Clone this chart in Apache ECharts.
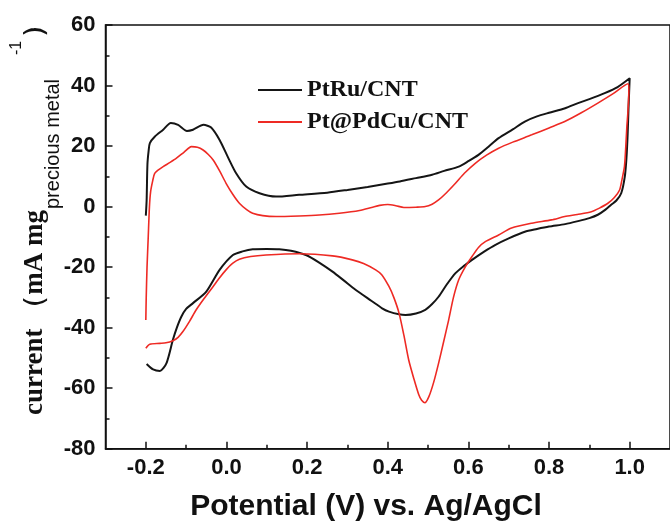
<!DOCTYPE html>
<html>
<head>
<meta charset="utf-8">
<script src="https://cdn.jsdelivr.net/npm/echarts@6/dist/echarts.min.js"></script>
<style>html,body{margin:0;padding:0;background:#fff}#c{width:670px;height:527px}</style>
</head>
<body>
<div id="c"></div>
<script>
// ---- data (potential V vs Ag/AgCl, current mA mg-1) ----
const seriesNames = ['PtRu/CNT', 'Pt@PdCu/CNT'];
const xTickLabels = [-0.2, 0.0, 0.2, 0.4, 0.6, 0.8, 1.0];
const xMinorTicks = [-0.1, 0.1, 0.3, 0.5, 0.7, 0.9];

const ptruV = [-0.2, -0.198, -0.196, -0.193, -0.19, -0.178, -0.157, -0.138, -0.12, -0.098, -0.083, -0.057, -0.038, -0.017, 0.003, 0.024, 0.049, 0.082, 0.123, 0.18, 0.25, 0.3, 0.35, 0.4, 0.43, 0.47, 0.51, 0.54, 0.576, 0.6, 0.625, 0.65, 0.675, 0.71, 0.74, 0.77, 0.8, 0.84, 0.872, 0.9, 0.938, 0.97, 1.0,
  0.999, 0.997, 0.995, 0.992, 0.988, 0.979, 0.967, 0.954, 0.94, 0.921, 0.9, 0.872, 0.84, 0.8, 0.77, 0.74, 0.7, 0.666, 0.64, 0.609, 0.59, 0.568, 0.545, 0.526, 0.51, 0.493, 0.47, 0.444, 0.428, 0.403, 0.386, 0.36, 0.32, 0.29, 0.263, 0.23, 0.197, 0.16, 0.131, 0.1, 0.065, 0.04, 0.016, -0.017, -0.05, -0.083, -0.1, -0.112, -0.123, -0.133, -0.149, -0.165, -0.182, -0.198];
const ptruI = [-3, 2, 14, 18.5, 21, 23.1, 25.4, 27.6, 27, 25, 25.4, 27, 26.1, 22, 16.5, 11, 6.6, 4.4, 3.3, 3.9, 4.6, 5.5, 6.5, 7.6, 8.3, 9.4, 10.5, 11.8, 13.2, 15, 17.1, 19.8, 22.6, 25.5, 28.1, 29.8, 31, 32.5, 34.2, 35.5, 37.5, 39.5, 42.4,
  39, 32, 24, 16, 10, 4.4, 2, 0.6, -1, -2.7, -3.8, -4.8, -5.8, -6.6, -7.4, -8.3, -10.5, -12.7, -14.8, -17.6, -19.5, -22, -26, -29.8, -32.2, -34.1, -35.3, -35.8, -35.6, -34.7, -33.6, -31.2, -27.5, -24.3, -21.5, -18.5, -16, -14.6, -14.1, -14, -14.1, -14.8, -16, -20.9, -28.1, -31.9, -33.8, -36.4, -40, -44.1, -51.8, -54.3, -53.8, -52];

const ptpdcuV = [-0.2, -0.199, -0.197, -0.194, -0.191, -0.188, -0.183, -0.178, -0.167, -0.157, -0.14, -0.124, -0.105, -0.087, -0.072, -0.058, -0.045, -0.033, -0.017, -0.001, 0.016, 0.032, 0.05, 0.065, 0.09, 0.123, 0.18, 0.23, 0.28, 0.33, 0.36, 0.38, 0.4, 0.42, 0.44, 0.47, 0.493, 0.51, 0.526, 0.545, 0.568, 0.59, 0.617, 0.645, 0.675, 0.71, 0.757, 0.8, 0.839, 0.88, 0.921, 0.96, 0.996,
  0.998, 0.996, 0.993, 0.99, 0.987, 0.981, 0.975, 0.962, 0.946, 0.925, 0.905, 0.87, 0.839, 0.806, 0.757, 0.707, 0.675, 0.642, 0.625, 0.609, 0.592, 0.576, 0.563, 0.551, 0.538, 0.526, 0.514, 0.502, 0.492, 0.484, 0.477, 0.465, 0.452, 0.44, 0.428, 0.415, 0.403, 0.385, 0.37, 0.34, 0.312, 0.263, 0.18, 0.098, 0.06, 0.032, 0.015, -0.001, -0.017, -0.033, -0.055, -0.075, -0.092, -0.108, -0.12, -0.133, -0.15, -0.165, -0.19, -0.2];
const ptpdcuI = [-37.5, -30, -20, -10, 0, 5, 8.5, 11, 12.3, 13.2, 14.6, 16, 18, 19.8, 19.6, 18.7, 17.2, 15.4, 11.8, 7.7, 4, 1.1, -1, -2.2, -3, -3.3, -3.1, -2.8, -2.2, -1.3, -0.3, 0.4, 0.7, 0.3, -0.3, -0.2, 0, 0.8, 2.2, 4.5, 7.7, 11, 14.3, 17, 19.3, 21.3, 23.7, 26, 28.1, 31, 34.2, 37.4, 40.6,
  38.6, 32, 26.4, 19, 13.2, 9, 5.5, 3, 1.1, -0.5, -1.7, -2.6, -3.3, -4.4, -5.5, -7.1, -9.4, -11.6, -13.5, -16.5, -20, -24.2, -30, -37.5, -45, -51.8, -58, -62.8, -64.8, -64, -62.2, -57, -50.7, -42.5, -35.2, -30, -26.4, -22.5, -20.9, -18.8, -17.6, -16.3, -15.6, -16, -16.5, -17.4, -18.8, -20.9, -23.5, -26.4, -30.3, -34.1, -38, -41.3, -43.2, -44.3, -45, -45.2, -45.5, -46.8];

const pair = (xs, ys) => xs.map((x, k) => [x, ys[k]]);

const SANS = '"Liberation Sans", Arial, sans-serif';
const SERIF = '"Liberation Serif", "Times New Roman", serif';
const AX = '#111';

const chart = echarts.init(document.getElementById('c'), null, {renderer: 'canvas'});
chart.setOption({
  animation: false,
  backgroundColor: '#fff',
  grid: {left: 105.5, top: 25, right: -2.2, bottom: 78.3, show: true, borderColor: AX, borderWidth: 1.5, backgroundColor: 'transparent'},
  legend: {
    data: seriesNames,
    orient: 'vertical',
    left: 253, top: 73,
    icon: 'rect',
    itemWidth: 44, itemHeight: 2, itemGap: 8,
    textStyle: {fontFamily: SERIF, fontWeight: 'bold', fontSize: 24, color: '#111', lineHeight: 24}
  },
  xAxis: [{
    type: 'value', min: -0.3, max: 1.1,
    axisLine: {show: true, onZero: false, lineStyle: {color: AX, width: 1.5}},
    axisTick: {show: true, inside: true, length: 7, lineStyle: {color: AX, width: 1.5}, customValues: xTickLabels},
    axisLabel: {customValues: xTickLabels, formatter: v => Number(v).toFixed(1), fontFamily: SANS, fontWeight: 'bold', fontSize: 22, color: '#111', margin: 8},
    splitLine: {show: false}
  }, {
    type: 'value', min: -0.3, max: 1.1, position: 'bottom',
    axisLine: {show: false, onZero: false},
    axisTick: {show: true, inside: true, length: 4, lineStyle: {color: AX, width: 1.5}, customValues: xMinorTicks},
    axisLabel: {show: false},
    splitLine: {show: false}
  }],
  yAxis: {
    type: 'value', min: -80, max: 60, interval: 20,
    axisLine: {show: true, onZero: false, lineStyle: {color: AX, width: 1.5}},
    axisTick: {show: true, inside: true, length: 7, lineStyle: {color: AX, width: 1.5}},
    minorTick: {show: true, splitNumber: 2, length: 4, lineStyle: {color: AX, width: 1.5}},
    axisLabel: {fontFamily: SANS, fontWeight: 'bold', fontSize: 22, color: '#111', margin: 10},
    splitLine: {show: false}
  },
  series: [{
    name: seriesNames[0], type: 'line', data: pair(ptruV, ptruI),
    symbol: 'none', smooth: 0.25, lineStyle: {color: '#151515', width: 2}, itemStyle: {color: '#151515'}
  }, {
    name: seriesNames[1], type: 'line', data: pair(ptpdcuV, ptpdcuI),
    symbol: 'none', smooth: 0.25, lineStyle: {color: '#ee2a24', width: 1.6}, itemStyle: {color: '#ee2a24'}
  }],
  graphic: [{
    type: 'text', x: 366, y: 507,
    style: {text: 'Potential (V) vs. Ag/AgCl', x: 0, y: 0, fill: '#111', font: 'bold 30px ' + SANS, align: 'center', verticalAlign: 'middle'}
  }, {
    type: 'group', x: 0, y: 415, rotation: Math.PI / 2,
    children: [
      {type: 'text', x: 0, y: 49, style: {text: 'current （mA mg', fill: '#111', font: 'bold 27px ' + SERIF, align: 'left', verticalAlign: 'bottom'}},
      {type: 'text', x: 206, y: 63, style: {text: 'precious metal', fill: '#111', font: '20px ' + SANS, align: 'left', verticalAlign: 'bottom'}},
      {type: 'text', x: 360, y: 25, style: {text: '-1', fill: '#111', font: '16px ' + SANS, align: 'left', verticalAlign: 'bottom'}},
      {type: 'text', x: 377, y: 49, style: {text: '）', fill: '#111', font: 'bold 27px ' + SERIF, align: 'left', verticalAlign: 'bottom'}}
    ]
  }]
});
</script>
</body>
</html>
